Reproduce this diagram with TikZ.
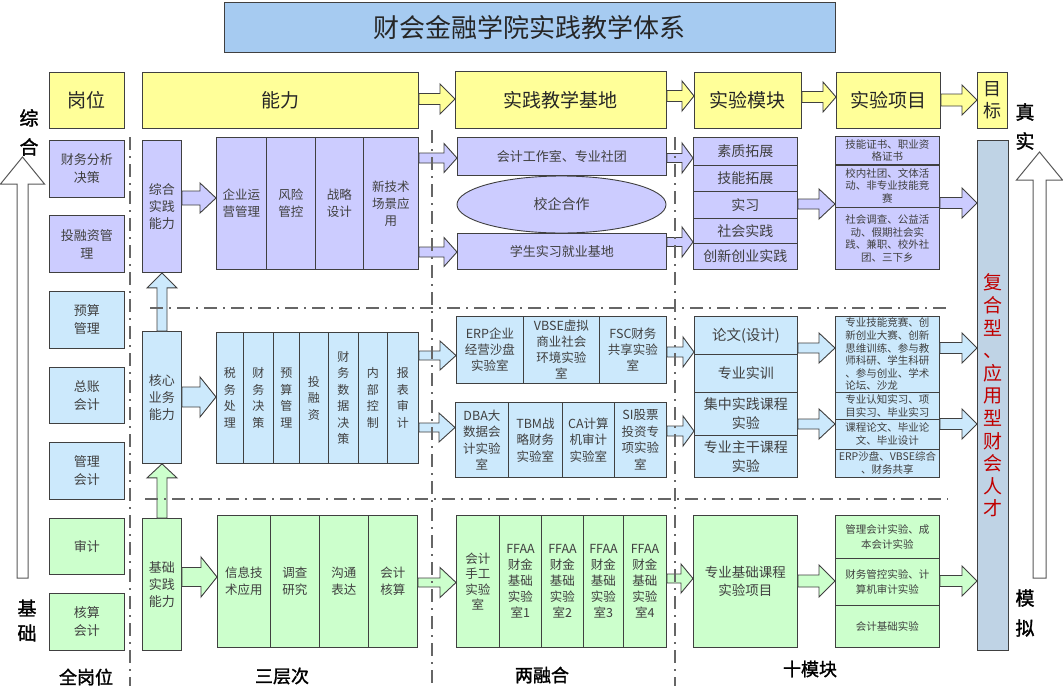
\documentclass[tikz,border=0pt]{standalone}
\usepackage{fontspec}
\setmainfont{Noto Sans CJK SC}
\newfontfamily\hei[FakeBold=1.5]{Noto Sans CJK SC}
\usetikzlibrary{calc,shapes.geometric}
\definecolor{pur}{HTML}{CCCCFF}
\definecolor{blu}{HTML}{CCE9FC}
\definecolor{grn}{HTML}{CCFFCC}
\definecolor{yel}{HTML}{FFFF99}
\definecolor{tgt}{HTML}{BFD3E5}
\definecolor{ttl}{HTML}{A6CBF1}
\definecolor{bord}{HTML}{404040}
\definecolor{txt}{HTML}{404040}
\definecolor{redt}{HTML}{C00000}
\tikzset{
 box/.style={draw=bord, line width=0.9pt, inner sep=1pt, align=center, text=txt, anchor=north west},
 sz/.style 2 args={minimum width=#1pt, minimum height=#2pt},
 fs/.style 2 args={font=\fontsize{#1pt}{#2pt}\selectfont},
 arr/.style={draw=bord, line width=0.9pt},
 dd/.style={draw=black!60, line width=1.8pt, dash pattern=on 13pt off 6pt on 2pt off 6pt},
 lbl/.style={font=\hei\fontsize{19pt}{22pt}\selectfont, text=black, inner sep=0pt},
 hdr/.style={box,fill=yel,fs={19}{22},text=black!85},
}
% horizontal block arrow: style, from, to, y centre, head length, shaft half, head half
\newcommand\harr[7]{%
\draw[arr,#1] ($(#2.east|-0,#4)+(0,-#6)$) -- ($(#3.west|-0,#4)+(-#5,-#6)$) -- ($(#3.west|-0,#4)+(-#5,-#7)$) -- (#3.west|-0,#4) -- ($(#3.west|-0,#4)+(-#5,#7)$) -- ($(#3.west|-0,#4)+(-#5,#6)$) -- ($(#2.east|-0,#4)+(0,#6)$) -- cycle;}
% vertical (upward) block arrow: style, from (below), to (above), x centre, head length, shaft half, head half
\newcommand\varr[7]{%
\draw[arr,#1] ($(#2.north-|#4,0)+(-#6,0)$) -- ($(#3.south-|#4,0)+(-#6,#5)$) -- ($(#3.south-|#4,0)+(-#7,#5)$) -- (#3.south-|#4,0) -- ($(#3.south-|#4,0)+(#7,#5)$) -- ($(#3.south-|#4,0)+(#6,#5)$) -- ($(#2.north-|#4,0)+(#6,0)$) -- cycle;}
\begin{document}
\begin{tikzpicture}[x=1pt,y=-1pt]
\useasboundingbox (0,0) rectangle (1063,689);
\fill[white] (0,0) rectangle (1063,689);
% title
\node[box,fill=ttl,sz={611}{50},fs={26}{30},text=black!85] (title) at (224,2) {财会金融学院实践教学体系};
% header row
\node[hdr,sz={75}{56}] (hGW) at (49,72) {岗位};
\node[hdr,sz={276}{56}] (hNL) at (142,72) {能力};
\node[hdr,sz={211}{57}] (hJD) at (455,71) {实践教学基地};
\node[hdr,sz={107}{56}] (hMK) at (694,72) {实验模块};
\node[hdr,sz={104}{56}] (hXM) at (836,72) {实验项目};
\node[hdr,sz={30}{56},fs={18}{22}] (hMB) at (977,72) {目\\标};
\harr{fill=yel}{hNL}{hJD}{99}{15}{5.5}{15}
\harr{fill=yel}{hJD}{hMK}{96}{12}{5.5}{15}
\harr{fill=yel}{hMK}{hXM}{97}{13}{5.5}{15}
\harr{fill=yel}{hXM}{hMB}{100}{15}{6}{15}
% posts column
\node[box,fill=pur,sz={75}{57},fs={13}{18}] (g1) at (49,140) {财务分析\\决策};
\node[box,fill=pur,sz={75}{57},fs={13}{18}] (g2) at (49,215) {投融资管\\理};
\node[box,fill=blu,sz={75}{57},fs={13}{18}] (g3) at (49,291) {预算\\管理};
\node[box,fill=blu,sz={75}{56},fs={13}{18}] (g4) at (49,367) {总账\\会计};
\node[box,fill=blu,sz={75}{57},fs={13}{18}] (g5) at (49,442) {管理\\会计};
\node[box,fill=grn,sz={75}{56},fs={13}{18}] (g6) at (49,518) {审计};
\node[box,fill=grn,sz={75}{57},fs={13}{18}] (g7) at (49,593) {核算\\会计};
% ability column
\node[box,fill=pur,sz={39}{132},fs={13}{17}] (a1) at (142,140) {综合\\实践\\能力};
\node[box,fill=blu,sz={39}{132},fs={13}{17}] (a2) at (142,331) {核心\\业务\\能力};
\node[box,fill=grn,sz={39}{132},fs={13}{17}] (a3) at (142,518) {基础\\实践\\能力};
\varr{fill=blu}{a2}{a1}{162}{15}{5}{15}
\varr{fill=grn}{a3}{a2}{162}{14}{5}{15}
% purple ability grid
\node[box,fill=pur,sz={50}{132},fs={12.5}{17}] (p1) at (216,137) {企业运\\营管理};
\node[box,fill=pur,sz={49}{132},fs={12.5}{17}] (p2) at (266,137) {风险\\管控};
\node[box,fill=pur,sz={48}{132},fs={12.5}{17}] (p3) at (315,137) {战略\\设计};
\node[box,fill=pur,sz={55}{132},fs={12.5}{17}] (p4) at (363,137) {新技术\\场景应\\用};
% blue ability grid
\node[box,fill=blu,sz={27}{131},fs={12}{16.5}] (b1) at (216,332) {税\\务\\处\\理};
\node[box,fill=blu,sz={30}{131},fs={12}{16.5}] (b2) at (243,332) {财\\务\\决\\策};
\node[box,fill=blu,sz={26}{131},fs={12}{16.5}] (b3) at (273,332) {预\\算\\管\\理};
\node[box,fill=blu,sz={29}{131},fs={12}{16.5}] (b4) at (299,332) {投\\融\\资};
\node[box,fill=blu,sz={30}{131},fs={12}{16.5}] (b5) at (328,332) {财\\务\\数\\据\\决\\策};
\node[box,fill=blu,sz={29}{131},fs={12}{16.5}] (b6) at (358,332) {内\\部\\控\\制};
\node[box,fill=blu,sz={31}{131},fs={12}{16.5}] (b7) at (387,332) {报\\表\\审\\计};
% green ability grid
\node[box,fill=grn,sz={53}{132},fs={12.5}{17}] (c1) at (217,515) {信息技\\术应用};
\node[box,fill=grn,sz={49}{132},fs={12.5}{17}] (c2) at (270,515) {调查\\研究};
\node[box,fill=grn,sz={49}{132},fs={12.5}{17}] (c3) at (319,515) {沟通\\表达};
\node[box,fill=grn,sz={49}{132},fs={12.5}{17}] (c4) at (368,515) {会计\\核算};
\harr{fill=pur}{a1}{p1}{198}{16}{7}{15}
\harr{fill=blu}{a2}{b1}{397}{16}{10}{20}
\harr{fill=grn}{a3}{c1}{577}{16}{9.5}{20}
% practice bases
\node[box,fill=pur,sz={209}{38},fs={13}{17}] (j1) at (457,137) {会计工作室、专业社团};
\node[ellipse,draw=bord,line width=0.9pt,fill=pur,sz={209}{57},fs={14}{17},text=txt,inner sep=0pt] (j2) at (561.5,204.5) {校企合作};
\node[box,fill=pur,sz={209}{36},fs={13}{17}] (j3) at (457,233) {学生实习就业基地};
\node[box,fill=blu,sz={67}{67},fs={12.5}{16}] (e1) at (456,316) {ERP企业\\经营沙盘\\实验室};
\node[box,fill=blu,sz={76}{67},fs={12.5}{16}] (e2) at (523,316) {VBSE虚拟\\商业社会\\环境实验\\室};
\node[box,fill=blu,sz={67}{67},fs={12.5}{16}] (e3) at (599,316) {FSC财务\\共享实验\\室};
\node[box,fill=blu,sz={53}{75},fs={12.5}{16.5}] (d1) at (455,402) {DBA大\\数据会\\计实验\\室};
\node[box,fill=blu,sz={54}{75},fs={12.5}{16.5}] (d2) at (508,402) {TBM战\\略财务\\实验室};
\node[box,fill=blu,sz={52}{75},fs={12.5}{16.5}] (d3) at (562,402) {CA计算\\机审计\\实验室};
\node[box,fill=blu,sz={52}{75},fs={12.5}{16.5}] (d4) at (614,402) {SI股票\\投资专\\项实验\\室};
\node[box,fill=grn,sz={43}{132},fs={12.5}{15.5}] (f0) at (456,515) {会计\\手工\\实验\\室};
\node[box,fill=grn,sz={42}{132},fs={12.5}{16}] (f1) at (499,515) {FFAA\\财金\\基础\\实验\\室1};
\node[box,fill=grn,sz={42}{132},fs={12.5}{16}] (f2) at (541,515) {FFAA\\财金\\基础\\实验\\室2};
\node[box,fill=grn,sz={40}{132},fs={12.5}{16}] (f3) at (583,515) {FFAA\\财金\\基础\\实验\\室3};
\node[box,fill=grn,sz={43}{132},fs={12.5}{16}] (f4) at (623,515) {FFAA\\财金\\基础\\实验\\室4};
\harr{fill=pur}{p4}{j1}{158}{13}{5}{14.5}
\harr{fill=pur}{p4}{j3}{252}{13}{5}{14.5}
\harr{fill=blu}{b7}{e1}{355.5}{16}{4.5}{14.5}
\harr{fill=blu}{b7}{d1}{427.5}{16}{4.5}{14.5}
\harr{fill=grn}{c4}{f0}{582.5}{16}{4.5}{15}
% modules
\node[box,fill=pur,sz={104}{28},fs={14}{17}] (m1) at (693,137) {素质拓展};
\node[box,fill=pur,sz={104}{26},fs={14}{17}] (m2) at (693,165) {技能拓展};
\node[box,fill=pur,sz={104}{27},fs={14}{17}] (m3) at (693,191) {实习};
\node[box,fill=pur,sz={104}{25},fs={14}{17}] (m4) at (693,218) {社会实践};
\node[box,fill=pur,sz={104}{26},fs={14}{17}] (m5) at (693,243) {创新创业实践};
\node[box,fill=blu,sz={103}{38},fs={14.5}{19}] (n1) at (694,316) {论文(设计)};
\node[box,fill=blu,sz={103}{38},fs={14}{19}] (n2) at (694,354) {专业实训};
\node[box,fill=blu,sz={103}{43},fs={14}{19}] (n3) at (694,392) {集中实践课程\\实验};
\node[box,fill=blu,sz={103}{42},fs={14}{19}] (n4) at (694,435) {专业主干课程\\实验};
\node[box,fill=grn,sz={104}{132},fs={13.5}{18}] (o1) at (693,515) {专业基础课程\\实验项目};
\harr{fill=pur}{j1}{m1}{158}{11}{4.5}{15}
\harr{fill=pur}{j3}{m5}{242}{11}{4.5}{15}
\harr{fill=blu}{e3}{n1}{352}{11}{5}{15}
\harr{fill=blu}{d4}{n3}{431}{11}{5}{15}
\harr{fill=grn}{f4}{o1}{578.5}{12}{4.5}{14.5}
% projects
\node[box,fill=pur,sz={104}{28},fs={10.5}{12.7}] (q1) at (835,136) {技能证书、职业资\\格证书};
\node[box,fill=pur,sz={104}{43},fs={10.5}{12.7}] (q2) at (835,164) {校内社团、文体活\\动、非专业技能竞\\赛};
\node[box,fill=pur,sz={104}{62},fs={10.5}{12.7}] (q3) at (835,207) {社会调查、公益活\\动、假期社会实\\践、兼职、校外社\\团、三下乡};
\draw[draw=bord,line width=2pt] (q1.south west) -- (q1.south east);
\node[box,fill=blu,sz={104}{76},fs={10.5}{12.6},align=left] (t1) at (835,316) {专业技能竞赛、创\\新创业大赛、创新\\思维训练、参与教\\师科研、学生科研\\、参与创业、学术\\论坛、沙龙};
\node[box,fill=blu,sz={104}{27},fs={10.5}{12.6},align=left] (t2) at (835,392) {专业认知实习、项\\目实习、毕业实习};
\node[box,fill=blu,sz={104}{30},fs={10.5}{13}] (t3) at (835,419) {课程论文、毕业论\\文、毕业设计};
\node[box,fill=blu,sz={104}{28},fs={10.5}{13}] (t4) at (835,449) {ERP沙盘、VBSE综合\\、财务共享};
\node[box,fill=grn,sz={104}{43},fs={10.5}{15}] (u1) at (835,515) {管理会计实验、成\\本会计实验};
\node[box,fill=grn,sz={104}{47},fs={10.5}{15}] (u2) at (835,558) {财务管控实验、计\\算机审计实验};
\node[box,fill=grn,sz={104}{42},fs={10.5}{15}] (u3) at (835,605) {会计基础实验};
\harr{fill=pur}{m3}{q2}{204}{16}{5}{15}
\harr{fill=blu}{n1}{t1}{348}{16}{5}{15}
\harr{fill=blu}{n3}{t2}{424}{16}{5}{15}
\harr{fill=grn}{o1}{u2}{581}{16}{6}{16}
% target
\node[box,fill=tgt,sz={31}{510},fs={19}{22.6},text=redt] (T) at (977,140) {复\\合\\型\\、\\应\\用\\型\\财\\会\\人\\才};
\harr{fill=pur}{q2}{T}{203}{15}{5.5}{15}
\harr{fill=blu}{t1}{T}{348}{15}{5.5}{15}
\harr{fill=blu}{t3}{T}{424}{15}{5.5}{15}
\harr{fill=grn}{u2}{T}{581}{15}{5.5}{15}
% side hollow arrows
\draw[arr,fill=white,draw=black!65,line width=1pt] (17,578) -- (17,184) -- (0.5,184) -- (22.5,157) -- (44.5,184) -- (28,184) -- (28,578) -- cycle;
\draw[arr,fill=white,draw=black!65,line width=1pt] (1033,578) -- (1033,180) -- (1016.5,180) -- (1039.5,152) -- (1062.5,180) -- (1046,180) -- (1046,578) -- cycle;
\node[lbl] (lz1) at (29,118) {综};
\node[lbl] (lz2) at (29,147) {合};
\node[lbl] (lj1) at (27,608) {基};
\node[lbl] (lj2) at (27,633) {础};
\node[lbl] (rz1) at (1025,112) {真};
\node[lbl] (rz2) at (1025,141) {实};
\node[lbl] (rm1) at (1025,598) {模};
\node[lbl] (rm2) at (1025,628) {拟};
% bottom labels
\node[lbl,font=\hei\fontsize{18pt}{20pt}\selectfont] (bl1) at (86,677) {全岗位};
\node[lbl,font=\hei\fontsize{18pt}{20pt}\selectfont] (bl2) at (282,676) {三层次};
\node[lbl,font=\hei\fontsize{18pt}{20pt}\selectfont] (bl3) at (542,675) {两融合};
\node[lbl,font=\hei\fontsize{18pt}{20pt}\selectfont] (bl4) at (810,669) {十模块};
% dash-dot separators
\draw[dd] (130,137) -- (130,686);
\draw[dd] (432,130) -- (432,686);
\draw[dd] (675,137) -- (675,686);
\draw[dd] (150,308) -- (948,308);
\draw[dd] (145,499) -- (948,499);
\end{tikzpicture}
\end{document}
